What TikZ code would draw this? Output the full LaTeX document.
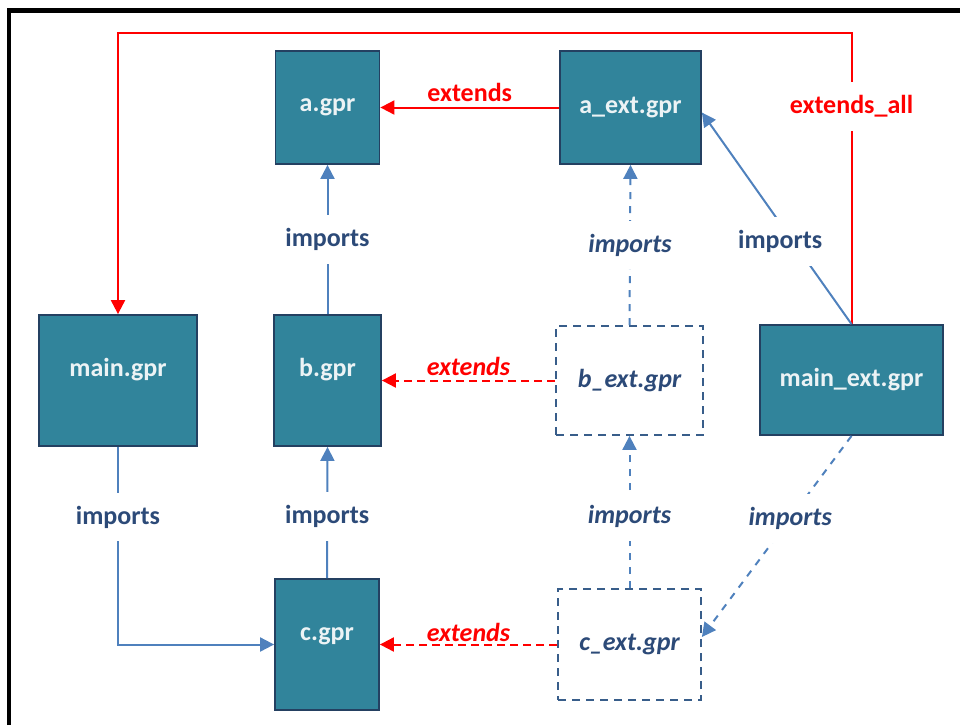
\documentclass[tikz,border=0pt]{standalone}
\usepackage{fontspec}
\setmainfont{Carlito}
\usetikzlibrary{arrows.meta}
\definecolor{tealfill}{RGB}{49,132,155}
\definecolor{boxborder}{RGB}{36,64,97}
\definecolor{boxtext}{RGB}{236,243,245}
\definecolor{lineblue}{RGB}{79,129,189}
\definecolor{lblblue}{RGB}{44,74,120}
\definecolor{dashborder}{RGB}{56,93,138}
\begin{document}
\begin{tikzpicture}[x=0.5pt,y=-0.5pt,
  solidbox/.style={draw=boxborder, line width=0.9pt, fill=tealfill, inner sep=0pt},
  extbox/.style={draw=dashborder, line width=0.9pt, dash pattern=on 4pt off 3pt, fill=white, inner sep=0pt},
  boxlbl/.style={text=boxtext, font=\fontsize{13}{15}\selectfont\bfseries},
  extlbl/.style={text=lblblue, font=\fontsize{13}{15}\selectfont\bfseries\itshape},
  implbl/.style={text=lblblue, font=\fontsize{13}{15}\selectfont\bfseries, fill=white, inner xsep=1pt, inner ysep=6.5pt},
  impilbl/.style={implbl, font=\fontsize{13}{15}\selectfont\bfseries\itshape},
  extslbl/.style={text=red, font=\fontsize{13}{15}\selectfont\bfseries},
  extsilbl/.style={text=red, font=\fontsize{13}{15}\selectfont\bfseries\itshape},
  arrowtip/.style={-{Triangle[length=7pt,width=7pt]}},
  impline/.style={draw=lineblue, line width=1pt, arrowtip},
  impdash/.style={impline, dash pattern=on 3.5pt off 3.5pt},
  extline/.style={draw=red, line width=1pt, arrowtip},
  extdash/.style={extline, dash pattern=on 4pt off 2.5pt},
]
\useasboundingbox (0,0) rectangle (960,725);
% frame
\draw[line width=2.25pt] (9,725) -- (9,10.5) -- (960,10.5);

% nodes
\node[solidbox, minimum width=52pt, minimum height=56.5pt, boxlbl] (a) at (327.5,107.5) {a.gpr};
\node[solidbox, minimum width=70.5pt, minimum height=56.5pt, boxlbl] (aext) at (630.5,107.5) {a\_ext.gpr};
\node[solidbox, minimum width=79pt, minimum height=65.5pt,
      label={[boxlbl, yshift=5.25pt]center:main.gpr}] (main) at (118,380.5) {};
\node[solidbox, minimum width=53.5pt, minimum height=65.5pt,
      label={[boxlbl, yshift=5.25pt]center:b.gpr}] (b) at (327.5,380.5) {};
\node[extbox, minimum width=73.5pt, minimum height=54.5pt, extlbl] (bext) at (629.5,380.5) {b\_ext.gpr};
\node[solidbox, minimum width=91.5pt, minimum height=55pt, boxlbl] (mainext) at (851.5,380) {main\_ext.gpr};
\node[solidbox, minimum width=52pt, minimum height=65.5pt,
      label={[boxlbl, yshift=4.25pt]center:c.gpr}] (c) at (327,644.5) {};
\node[extbox, minimum width=71.5pt, minimum height=55.5pt, extlbl] (cext) at (629.5,644.5) {c\_ext.gpr};

% connectors
\coordinate (top) at (0,33);
\draw[extline] (aext.west) -- node[extslbl, midway, yshift=7.75pt]{extends} (a.east);
\draw[extline] (mainext.north) -- node[pos=0.747, extslbl, fill=white, inner xsep=1pt, inner ysep=6.75pt]{extends\_all} (mainext.north |- top) -- (main.north |- top) -- (main.north);
\draw[impline] (b.north) -- node[implbl, midway]{imports} (a.south);
\draw[impline] (c.north) -- node[implbl, pos=0.47]{imports} (b.south);
\draw[impline] (main.south) |- node[implbl, pos=0.178]{imports} (c.west);
\draw[impdash] (bext.north) -- node[impilbl, midway]{imports} (aext.south);
\draw[impdash] (cext.north) -- node[impilbl, pos=0.47]{imports} (bext.south);
\draw[extdash] (bext.west) -- node[extsilbl, midway, yshift=7.25pt]{extends} (b.east);
\draw[extdash] (cext.west) -- node[extsilbl, midway, yshift=6.25pt]{extends} (c.east);
\draw[impline] (mainext.north) -- node[implbl, pos=0.39, xshift=-6.5pt]{imports} ([yshift=-2.5pt]aext.east);
\draw[impdash] (mainext.south) -- node[impilbl, pos=0.41]{imports} ([yshift=3.75pt]cext.east);
\end{tikzpicture}
\end{document}
